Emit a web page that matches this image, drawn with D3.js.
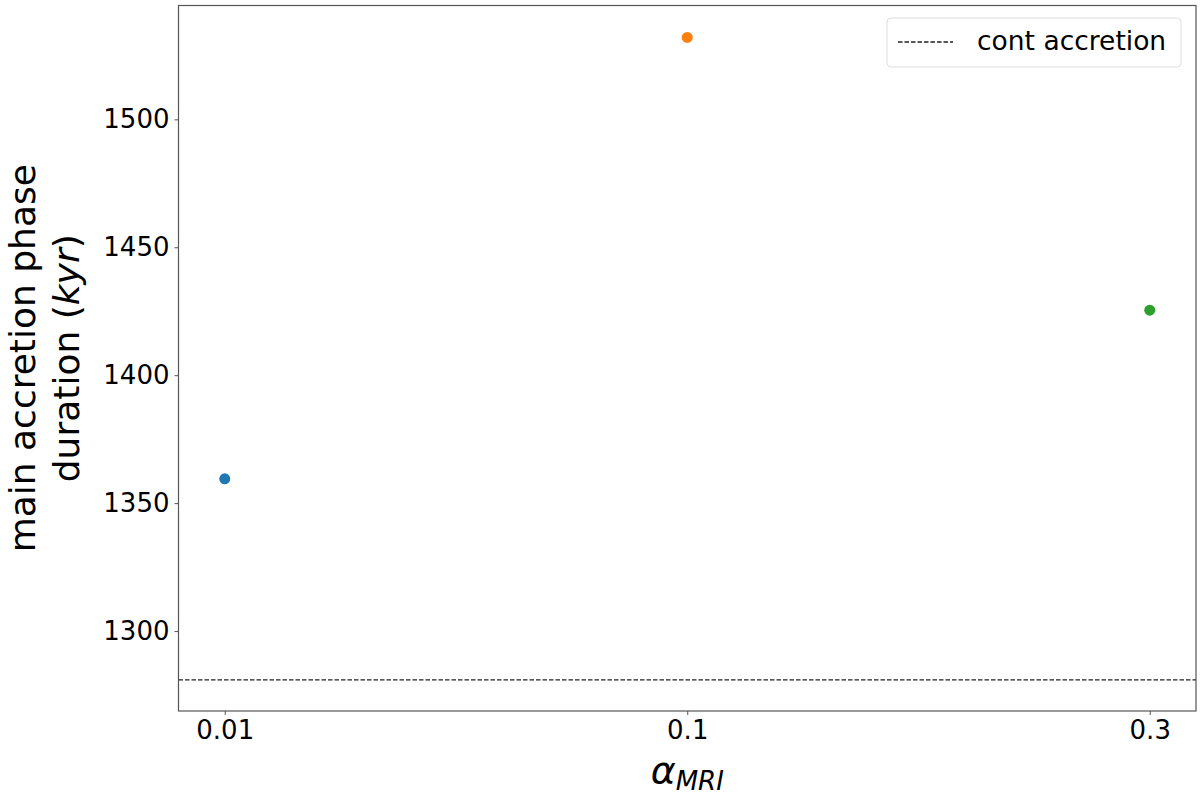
<!DOCTYPE html>
<html><head><meta charset="utf-8">
<script src="https://cdn.jsdelivr.net/npm/d3@7"></script>
<style>body{margin:0;background:#fff}svg{display:block}text{font-family:"DejaVu Sans",sans-serif}</style>
</head><body><svg id="c" width="1200" height="803"></svg>
<script>
const categories = ["0.01", "0.1", "0.3"];
const durations = [1359.5, 1532.0, 1425.4];
const colors = ["#1f77b4", "#ff7f0e", "#2ca02c"];
const contAccretion = 1280.9;
const yTicks = [1300, 1350, 1400, 1450, 1500];

const svg = d3.select("#c");
const L = 178.5, R = 1196, T = 5.5, B = 711;
const x = d3.scaleLinear().domain([-0.1, 2.1]).range([L, R]);
const y = d3.scaleLinear().domain([1268.75, 1544.5]).range([B, T]);

// dashed line
svg.append("line").attr("x1", L).attr("x2", R)
  .attr("y1", y(contAccretion)).attr("y2", y(contAccretion))
  .attr("stroke", "#222").attr("stroke-width", 1.3).attr("stroke-dasharray", "4.5,2");

// points
svg.selectAll("circle.pt").data(durations).enter().append("circle")
  .attr("cx", (d, i) => x(i)).attr("cy", d => y(d)).attr("r", 5.5)
  .attr("fill", (d, i) => colors[i]);

// axes
const yAxis = d3.axisLeft(y).tickValues(yTicks).tickFormat(d3.format("d")).tickSize(4).tickPadding(5);
const gy = svg.append("g").attr("transform", `translate(${L},0)`).call(yAxis);
const xAxis = d3.axisBottom(x).tickValues([0, 1, 2]).tickFormat(i => categories[i]).tickSize(4).tickPadding(6);
const gx = svg.append("g").attr("transform", `translate(0,${B})`).call(xAxis);
[gx, gy].forEach(g => {
  g.select(".domain").remove();
  g.selectAll(".tick line").attr("stroke", "#555");
  g.selectAll(".tick text").attr("font-size", 26).attr("fill", "#000").attr("font-family", "DejaVu Sans");
});

// frame
svg.append("rect").attr("x", L).attr("y", T).attr("width", R - L).attr("height", B - T)
  .attr("fill", "none").attr("stroke", "#555").attr("stroke-width", 1.2);

// y label
const cy = (T + B) / 2;
const yl = svg.append("g").attr("transform", `translate(0,${cy}) rotate(-90)`);
yl.append("text").attr("x", 0).attr("y", 35).attr("text-anchor", "middle")
  .attr("font-size", 36).text("main accretion phase");
const t2 = yl.append("text").attr("x", 0).attr("y", 79).attr("text-anchor", "middle").attr("font-size", 36);
t2.append("tspan").text("duration (");
t2.append("tspan").attr("font-style", "italic").text("kyr");
t2.append("tspan").text(")");

// x label
const xl = svg.append("text").attr("x", x(1)).attr("y", 783).attr("text-anchor", "middle");
xl.append("tspan").attr("font-size", 38).attr("font-style", "italic").text("α");
xl.append("tspan").attr("font-size", 26).attr("font-style", "italic").attr("dy", 7).text("MRI");

// legend
const lg = svg.append("g");
lg.append("rect").attr("x", 887).attr("y", 18).attr("width", 294).attr("height", 49).attr("rx", 4)
  .attr("fill", "#fff").attr("stroke", "#ddd").attr("stroke-width", 1);
lg.append("line").attr("x1", 898).attr("x2", 953).attr("y1", 42).attr("y2", 42)
  .attr("stroke", "#222").attr("stroke-width", 1.3).attr("stroke-dasharray", "4.5,2");
lg.append("text").attr("x", 977).attr("y", 50).attr("font-size", 26.5).text("cont accretion");
</script></body></html>
